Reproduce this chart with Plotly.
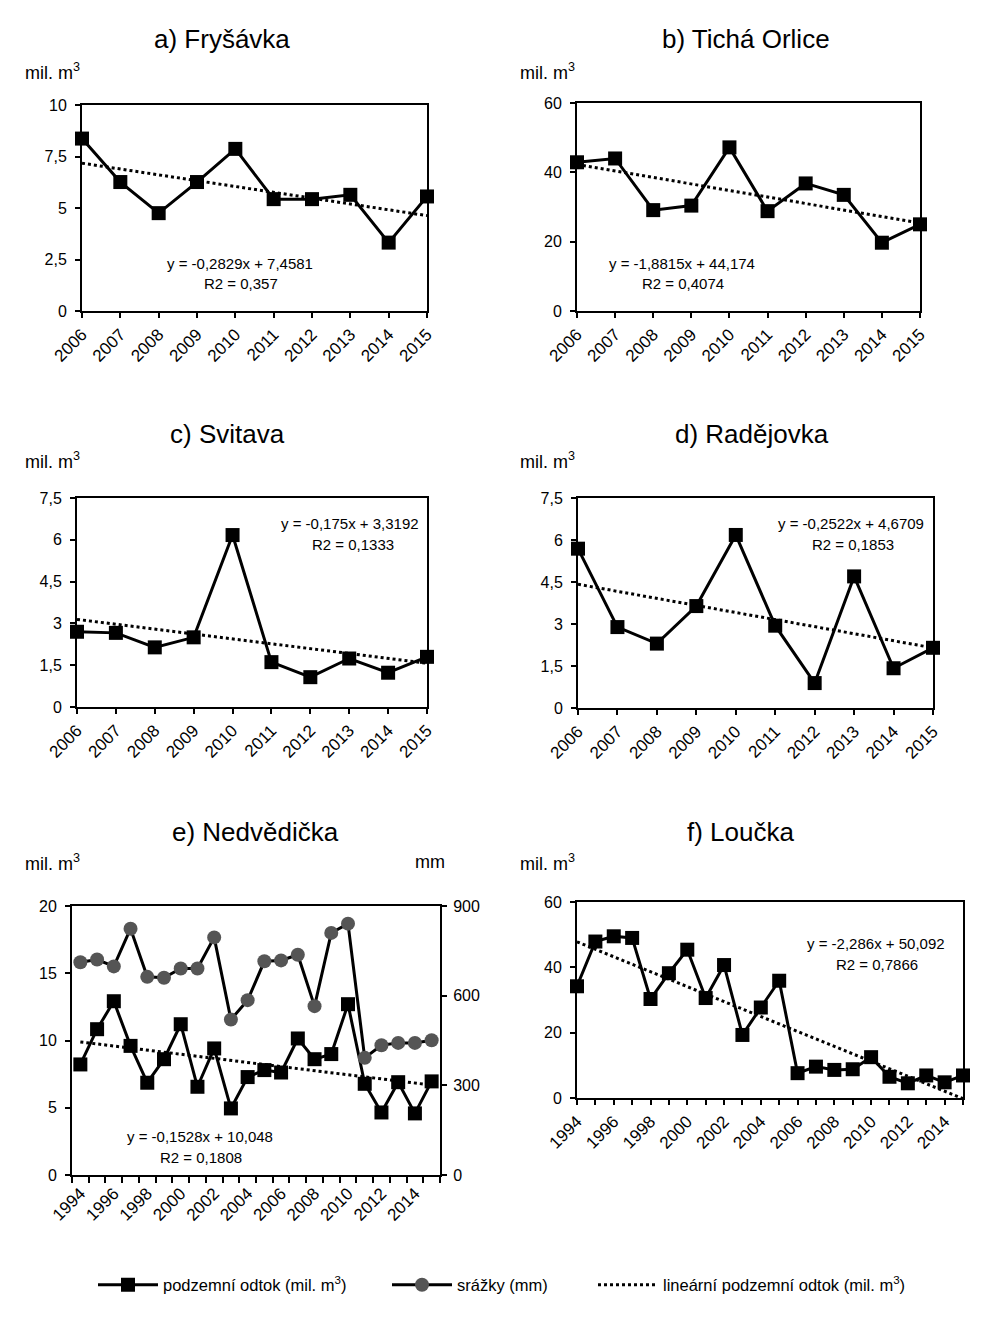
import plotly.graph_objects as go

W, H = 995, 1321
OFF = 8  # default page margin of the html body
FW, FH = W - OFF, H - OFF

# ---------------- data ----------------
years_short = [2006, 2007, 2008, 2009, 2010, 2011, 2012, 2013, 2014, 2015]
years_long = list(range(1994, 2016))

frysavka = [8.37, 6.26, 4.75, 6.26, 7.87, 5.43, 5.43, 5.64, 3.32, 5.56]
ticha_orlice = [42.9, 44.0, 29.1, 30.4, 47.2, 28.8, 36.8, 33.5, 19.7, 25.0]
svitava = [2.70, 2.66, 2.14, 2.50, 6.17, 1.61, 1.07, 1.74, 1.23, 1.80]
radejovka = [5.69, 2.89, 2.30, 3.64, 6.18, 2.94, 0.89, 4.70, 1.42, 2.15]
nedvedicka = [8.22, 10.84, 12.92, 9.60, 6.86, 8.61, 11.21, 6.56, 9.41, 4.95, 7.28,
              7.80, 7.62, 10.15, 8.61, 8.99, 12.70, 6.78, 4.65, 6.90, 4.58, 6.96]
nedvedicka_srazky = [712, 721, 698, 824, 663, 660, 691, 691, 795, 520, 585,
                     715, 718, 737, 565, 810, 841, 392, 434, 442, 442, 451]
loucka = [34.2, 47.9, 49.5, 49.0, 30.3, 38.2, 45.4, 30.6, 40.7, 19.3, 27.7,
          35.9, 7.6, 9.6, 8.6, 8.8, 12.5, 6.5, 4.5, 6.9, 4.8, 6.9]

titles = ["a) Fryšávka", "b) Tichá Orlice", "c) Svitava", "d) Radějovka",
          "e) Nedvědička", "f) Loučka"]
trend_slope = [-0.2829, -1.8815, -0.175, -0.2522, -0.1528, -2.286]
trend_intercept = [7.4581, 44.174, 3.3192, 4.6709, 10.048, 50.092]
equations = ["y = -0,2829x + 7,4581", "y = -1,8815x + 44,174", "y = -0,175x + 3,3192",
             "y = -0,2522x + 4,6709", "y = -0,1528x + 10,048", "y = -2,286x + 50,092"]
r2_texts = ["R2 = 0,357", "R2 = 0,4074", "R2 = 0,1333", "R2 = 0,1853",
            "R2 = 0,1808", "R2 = 0,7866"]
y_ticks = [[0, 2.5, 5, 7.5, 10], [0, 20, 40, 60], [0, 1.5, 3, 4.5, 6, 7.5],
           [0, 1.5, 3, 4.5, 6, 7.5], [0, 5, 10, 15, 20], [0, 20, 40, 60]]
y2_ticks = [0, 300, 600, 900]

legend_names = ["podzemní odtok (mil. m<sup>3</sup>)", "srážky (mm)",
                "lineární podzemní odtok (mil. m<sup>3</sup>)"]

# ---------------- layout helpers ----------------
FONT = "Liberation Sans, Arial, sans-serif"

def px(x):
    return (x - OFF) / FW

def py(y):
    return 1 - (y - OFF) / FH

# plot areas in pixels: (x0, x1, y_top, y_bottom)
boxes = [(82, 427, 105, 311), (577, 920, 103, 311), (77, 427, 498, 707),
         (578, 933, 498, 708), (72, 440, 906, 1175), (577, 963, 902, 1098)]
title_pos = [(222, 39), (746, 39), (227, 434), (752, 434), (255, 832), (740, 832)]
unit_pos = [(23, 72), (518, 72), (23, 461), (518, 461), (23, 862), (518, 862)]
eq_pos = [(240, 263, 241, 283), (682, 264, 683, 283), (350, 523, 353, 544),
          (851, 523, 853, 544), (200, 1136, 201, 1157), (876, 943, 877, 964)]
legend_x = [98, 392, 598]
legend_y = 1285

fig = go.Figure()

series = [frysavka, ticha_orlice, svitava, radejovka, nedvedicka, loucka]
xs = [years_short] * 4 + [years_long, years_long]

axis_common = dict(showline=True, linecolor="black", linewidth=2, mirror=True,
                   ticks="outside", tickcolor="black", tickwidth=2, ticklen=5,
                   showgrid=False, zeroline=False, automargin=False,
                   tickfont=dict(family=FONT, size=16, color="black"))

annotations = []
for i in range(6):
    n = "" if i == 0 else str(i + 1)
    xa, ya = "x" + n, "y" + n
    x0, x1, yt, yb = boxes[i]
    xvals = xs[i]
    yvals = series[i]
    idx = list(range(1, len(xvals) + 1))
    trend = [trend_slope[i] * k + trend_intercept[i] for k in idx]
    show = (i == 4)

    fig.add_trace(go.Scatter(x=xvals, y=trend, mode="lines", xaxis=xa, yaxis=ya,
                             line=dict(color="black", width=3, dash="dot"),
                             name=legend_names[2], showlegend=False))
    if i == 4:
        fig.add_trace(go.Scatter(x=xvals, y=nedvedicka_srazky, mode="lines+markers",
                                 xaxis=xa, yaxis="y7",
                                 line=dict(color="black", width=3),
                                 marker=dict(symbol="circle", size=14, color="#555555"),
                                 name=legend_names[1], showlegend=True, legend="legend2",
                                 cliponaxis=False))
    fig.add_trace(go.Scatter(x=xvals, y=yvals, mode="lines+markers", xaxis=xa, yaxis=ya,
                             line=dict(color="black", width=3),
                             marker=dict(symbol="square", size=14, color="black"),
                             name=legend_names[0], showlegend=show, legend="legend",
                             cliponaxis=False))
    if i == 4:
        fig.add_trace(go.Scatter(x=[None], y=[None], mode="lines", xaxis=xa, yaxis=ya,
                                 line=dict(color="black", width=3, dash="dot"),
                                 name=legend_names[2], showlegend=True, legend="legend3"))

    xaxis = dict(axis_common, domain=[px(x0), px(x1)], anchor=ya, tickangle=-45,
                 tickfont=dict(family=FONT, size=17, color="black"))
    if i < 4:
        xaxis.update(range=[2006, 2015], tickmode="array", tickvals=years_short,
                     ticktext=[str(y) for y in years_short])
    elif i == 4:
        xaxis.update(range=[1993.5, 2015.5], tickmode="array",
                     tickvals=[y for y in years_long if y % 2 == 0],
                     ticktext=[str(y) for y in years_long if y % 2 == 0],
                     ticklen=0,
                     minor=dict(tickmode="array",
                                tickvals=[y - 0.5 for y in years_long] + [2015.5],
                                ticks="outside", ticklen=6, tickwidth=2,
                                tickcolor="black", showgrid=False))
    else:
        xaxis.update(range=[1994, 2015], tickmode="array", tickvals=years_long,
                     ticktext=[str(y) if y % 2 == 0 else "" for y in years_long])
    yaxis = dict(axis_common, domain=[py(yb), py(yt)], anchor=xa,
                 range=[y_ticks[i][0], y_ticks[i][-1]], tickmode="array",
                 tickvals=y_ticks[i], ticklabelstandoff=5,
                 ticktext=[str(v).replace(".", ",") if v % 1 else str(int(v)) for v in y_ticks[i]])
    if i == 4:
        yaxis["mirror"] = False
    fig.layout["xaxis" + n] = xaxis
    fig.layout["yaxis" + n] = yaxis

    tx, ty = title_pos[i]
    annotations.append(dict(x=px(tx), y=py(ty), xref="paper", yref="paper",
                            text=titles[i], showarrow=False, xanchor="center",
                            yanchor="middle", font=dict(family=FONT, size=26, color="black")))
    ux, uy = unit_pos[i]
    annotations.append(dict(x=px(ux), y=py(uy), xref="paper", yref="paper",
                            text="mil. m<sup>3</sup>", showarrow=False, xanchor="left",
                            yanchor="middle", font=dict(family=FONT, size=18, color="black")))
    ex, ey, rx, ry = eq_pos[i]
    annotations.append(dict(x=px(ex), y=py(ey), xref="paper", yref="paper",
                            text=equations[i], showarrow=False, xanchor="center",
                            yanchor="middle", font=dict(family=FONT, size=15, color="black")))
    annotations.append(dict(x=px(rx), y=py(ry), xref="paper", yref="paper",
                            text=r2_texts[i], showarrow=False, xanchor="center",
                            yanchor="middle", font=dict(family=FONT, size=15, color="black")))

x0, x1, yt, yb = boxes[4]
fig.layout["yaxis7"] = dict(axis_common, domain=[py(yb), py(yt)], anchor="x5",
                            overlaying="y5", side="right", mirror=False,
                            range=[0, 900], tickmode="array", tickvals=y2_ticks,
                            ticklabelstandoff=3,
                            ticktext=[str(v) for v in y2_ticks])
annotations.append(dict(x=px(447), y=py(862), xref="paper", yref="paper",
                        text="mm", showarrow=False, xanchor="right", yanchor="middle",
                        font=dict(family=FONT, size=18, color="black")))

leg_common = dict(orientation="h", xanchor="left", yanchor="middle",
                  font=dict(family=FONT, size=16.5, color="black"),
                  itemwidth=60, bgcolor="rgba(0,0,0,0)")

fig.update_layout(
    width=FW, height=FH,
    margin=dict(l=0, r=0, t=0, b=0, autoexpand=False),
    paper_bgcolor="white", plot_bgcolor="white",
    font=dict(family=FONT, size=15, color="black"),
    annotations=annotations,
    showlegend=True,
    legend=dict(leg_common, x=px(legend_x[0] - 5), y=py(legend_y)),
    legend2=dict(leg_common, x=px(legend_x[1] - 5), y=py(legend_y)),
    legend3=dict(leg_common, x=px(legend_x[2] - 5), y=py(legend_y)),
)

fig.write_html("out.html")
